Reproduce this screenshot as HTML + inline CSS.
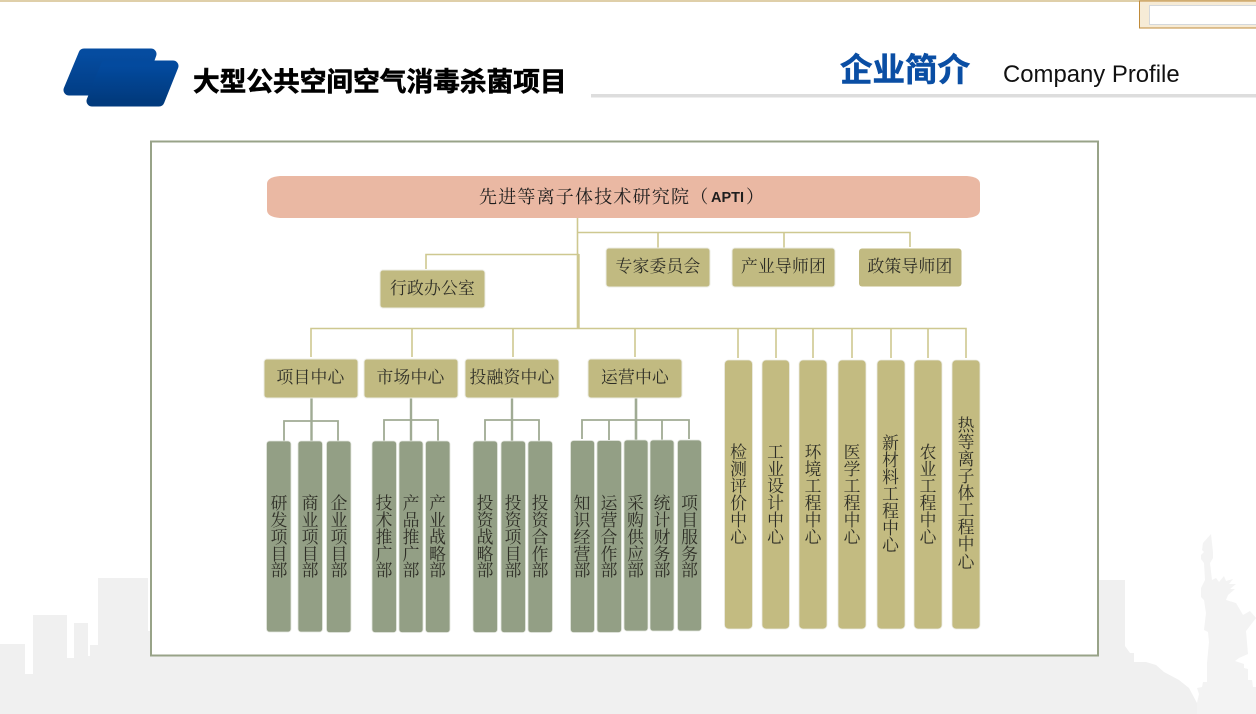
<!DOCTYPE html>
<html lang="zh">
<head>
<meta charset="utf-8">
<title>企业简介</title>
<style>
html,body{margin:0;padding:0;background:#fff;width:1256px;height:714px;overflow:hidden}
svg{display:block}
.s{font-family:"Liberation Serif","Noto Serif CJK SC",serif;fill:#2e2e26;font-size:16.8px}
.m{text-anchor:middle}
.h{letter-spacing:.2px}
</style>
</head>
<body>
<svg width="1256" height="714" viewBox="0 0 1256 714" xmlns="http://www.w3.org/2000/svg">
<defs>
<linearGradient id="g1" x1="0" y1="0" x2="0" y2="1"><stop offset="0" stop-color="#054ca0"/><stop offset="1" stop-color="#023f88"/></linearGradient>
<linearGradient id="g2" x1="0" y1="0" x2="0" y2="1"><stop offset="0" stop-color="#034a9e"/><stop offset="1" stop-color="#013a7d"/></linearGradient>
</defs>
<!-- background skyline -->
<g fill="#f0f0f0">
<polygon points="0,644 25,644 25,674 33,674 33,615 67,615 67,658 74,658 74,623 88,623 88,656 90,656 90,645 98,645 98,578 148,578 148,631 160,631 160,714 0,714"/>
<rect x="150" y="654" width="950" height="60"/>
<polygon points="1098,580 1125,580 1125,646 1130,653 1134,653 1134,662 1146,662 1156,665 1164,672 1179,680 1189,688 1197,703 1256,703 1256,714 1098,714"/>
</g>
<polygon fill="#f3f3f3" points="1211,534 1203,543 1202,550 1204,552 1201,555 1201,559 1204,563 1205,580 1201,588 1201,597 1204,600 1206,613 1204,630 1208,632 1209,642 1207,663 1207,682 1203,682 1202,687 1197,688 1199,694 1197,703 1197,714 1256,714 1256,687 1253,687 1252,680 1248,680 1248,669 1244,668 1244,664 1235,661 1239,658 1248,654 1246,631 1256,618 1250,611 1243,615 1236,603 1226,600 1228,595 1235,589 1230,589 1236,584 1229,584 1233,579 1226,581 1224,576 1219,582 1216,578 1212,580 1210,563 1213,558 1213,552 1212,543"/>
<!-- top band -->
<rect x="0" y="0" width="1256" height="2" fill="#dfcfa9"/>
<rect x="1139.5" y="1" width="118" height="27" fill="#f6ebd6" stroke="#c08b3a" stroke-width="1"/>
<rect x="1149.5" y="5.5" width="110" height="19" fill="#fff" stroke="#d4d8dc" stroke-width="1"/>
<!-- logo -->
<polygon points="84,54 151,54 138,90 69,90" fill="url(#g1)" stroke="url(#g1)" stroke-width="11" stroke-linejoin="round"/>
<polygon points="106,66 173,66 159,101 92,101" fill="url(#g2)" stroke="url(#g2)" stroke-width="11" stroke-linejoin="round"/>
<!-- header text -->
<text x="193" y="91" font-family="'Noto Sans CJK SC',sans-serif" font-weight="700" font-size="26.7" fill="#000" stroke="#000" stroke-width=".6">大型公共空间空气消毒杀菌项目</text>
<text x="840" y="81" font-family="'Noto Sans CJK SC',sans-serif" font-weight="700" font-size="32.5" fill="#0a4ea4" stroke="#0a4ea4" stroke-width=".6">企业简介</text>
<text x="1003" y="82" font-family="'Liberation Sans',sans-serif" font-size="23.9" fill="#111">Company Profile</text>
<rect x="591" y="94" width="665" height="3.5" fill="#dddddd"/>
<!-- frame -->
<rect x="151" y="141.500" width="947" height="514" fill="#fff" stroke="#98a388" stroke-width="2"/>
<!-- connectors gold -->
<g fill="none" stroke="#cec890" stroke-width="1.600">
<path d="M577.500 218V328"/>
<path d="M578 232.500H910V247M658 232.500V248M784 232.500V248"/>
<path d="M426 269V254.500H579"/>
<path d="M311 357V328.500H966V358M412 328V357M513 328V357M635 328V357M738 328V358M776 328V358M813 328V358M852 328V358M891 328V358M928 328V358"/>
<path d="M578.700 254V328" stroke-width="2"/>
</g>
<!-- connectors grey -->
<g fill="none" stroke="#a0ab94" stroke-width="1.800">
<path d="M311.500 398V441" stroke-width="2.400"/><path d="M284 441V421H338V441"/>
<path d="M411 398V441" stroke-width="2.400"/><path d="M384 441V420H438V441"/>
<path d="M512 398V441" stroke-width="2.400"/><path d="M485 441V420H539V441"/>
<path d="M636 398V440" stroke-width="2.600"/><path d="M582 439V420H689V439M609 420V440M662 420V440"/>
</g>
<!-- top bar -->
<path d="M280 176H967Q980 177 980 184V210Q980 217 967 218H280Q267 217 267 210V184Q267 177 280 176Z" fill="#eab8a3"/>
<text class="s" x="479" y="203" style="font-size:18px;letter-spacing:1.2px;fill:#1e1e1e">先进等离子体技术研究院（</text>
<text x="711" y="202" font-family="'Liberation Sans',sans-serif" font-weight="700" font-size="14.500" fill="#1e1e1e">APTI</text>
<text class="s" x="746" y="203" style="font-size:18px;fill:#1e1e1e">）</text>
<!-- boxes gold horizontal -->
<g fill="#c1ba81" stroke="#ecece4" stroke-width="1">
<rect x="380" y="270" width="105" height="38" rx="3"/>
<rect x="606" y="248" width="104" height="39" rx="3"/>
<rect x="732" y="248" width="103" height="39" rx="3"/>
<rect x="859" y="248.500" width="102.500" height="38" rx="3" stroke="none"/>
<rect x="264" y="359" width="94" height="39" rx="3"/>
<rect x="364" y="359" width="94" height="39" rx="3"/>
<rect x="465" y="359" width="94" height="39" rx="3"/>
<rect x="588" y="359" width="94" height="39" rx="3"/>
</g>
<text class="s m h" x="432.500" y="294">行政办公室</text>
<text class="s m h" x="658" y="272">专家委员会</text>
<text class="s m h" x="783.500" y="272">产业导师团</text>
<text class="s m h" x="910" y="272">政策导师团</text>
<text class="s m h" x="310.500" y="383">项目中心</text>
<text class="s m h" x="410.500" y="383">市场中心</text>
<text class="s m h" x="512" y="383">投融资中心</text>
<text class="s m h" x="635" y="383">运营中心</text>
<!-- sub departments -->
<g fill="#939f85" stroke="#e4e6df" stroke-width=".8">
<rect x="266.500" y="441" width="24.500" height="191" rx="3"/>
<rect x="298" y="441" width="24.500" height="191" rx="3"/>
<rect x="326.500" y="441" width="24.500" height="191.500" rx="3"/>
<rect x="372" y="441" width="24.500" height="191.500" rx="3"/>
<rect x="399" y="441" width="24" height="191.500" rx="3"/>
<rect x="425.500" y="441" width="24.500" height="191.500" rx="3"/>
<rect x="473" y="441" width="24.500" height="191.500" rx="3"/>
<rect x="501" y="441" width="24.500" height="191.500" rx="3"/>
<rect x="528" y="441" width="24.500" height="191.500" rx="3"/>
<rect x="570.500" y="440.500" width="24" height="192" rx="3"/>
<rect x="597" y="440.500" width="24.500" height="192" rx="3"/>
<rect x="624" y="440" width="24" height="191" rx="3"/>
<rect x="650" y="440" width="24" height="191" rx="3"/>
<rect x="677.500" y="440" width="24" height="191" rx="3"/>
</g>
<!-- right vertical -->
<g fill="#c3bb81" stroke="#ecece4" stroke-width=".8">
<rect x="724.500" y="360" width="28" height="269" rx="4"/>
<rect x="762" y="360" width="27.500" height="269" rx="4"/>
<rect x="799" y="360" width="28" height="269" rx="4"/>
<rect x="838" y="360" width="28" height="269" rx="4"/>
<rect x="877" y="360" width="28" height="269" rx="4"/>
<rect x="914" y="360" width="28" height="269" rx="4"/>
<rect x="952" y="360" width="28" height="269" rx="4"/>
</g>
<!-- vertical labels -->
<text class="s m" x="279 279 279 279 279" y="509 526 543 560 576">研发项目部</text>
<text class="s m" x="310 310 310 310 310" y="509 526 543 560 576">商业项目部</text>
<text class="s m" x="339 339 339 339 339" y="509 526 543 560 576">企业项目部</text>
<text class="s m" x="384 384 384 384 384" y="509 526 543 560 576">技术推广部</text>
<text class="s m" x="411 411 411 411 411" y="509 526 543 560 576">产品推广部</text>
<text class="s m" x="437.500 437.500 437.500 437.500 437.500" y="509 526 543 560 576">产业战略部</text>
<text class="s m" x="485 485 485 485 485" y="509 526 543 560 576">投资战略部</text>
<text class="s m" x="513 513 513 513 513" y="509 526 543 560 576">投资项目部</text>
<text class="s m" x="540 540 540 540 540" y="509 526 543 560 576">投资合作部</text>
<text class="s m" x="582 582 582 582 582" y="509 526 543 560 576">知识经营部</text>
<text class="s m" x="609 609 609 609 609" y="509 526 543 560 576">运营合作部</text>
<text class="s m" x="635.500 635.500 635.500 635.500 635.500" y="509 526 543 560 576">采购供应部</text>
<text class="s m" x="662 662 662 662 662" y="509 526 543 560 576">统计财务部</text>
<text class="s m" x="689.500 689.500 689.500 689.500 689.500" y="509 526 543 560 576">项目服务部</text>
<text class="s m" x="738.500 738.500 738.500 738.500 738.500 738.500" y="458 475 492 509 526 543">检测评价中心</text>
<text class="s m" x="775.500 775.500 775.500 775.500 775.500 775.500" y="458 475 492 509 526 543">工业设计中心</text>
<text class="s m" x="813 813 813 813 813 813" y="458 475 492 509 526 543">环境工程中心</text>
<text class="s m" x="852 852 852 852 852 852" y="458 475 492 509 526 543">医学工程中心</text>
<text class="s m" x="890.500 890.500 890.500 890.500 890.500 890.500 890.500" y="449 466 483 500 517 534 551">新材料工程中心</text>
<text class="s m" x="928 928 928 928 928 928" y="458 475 492 509 526 543">农业工程中心</text>
<text class="s m" x="966 966 966 966 966 966 966 966 966" y="431 448 465 482 499 516 533 550 568">热等离子体工程中心</text>
</svg>
</body>
</html>
